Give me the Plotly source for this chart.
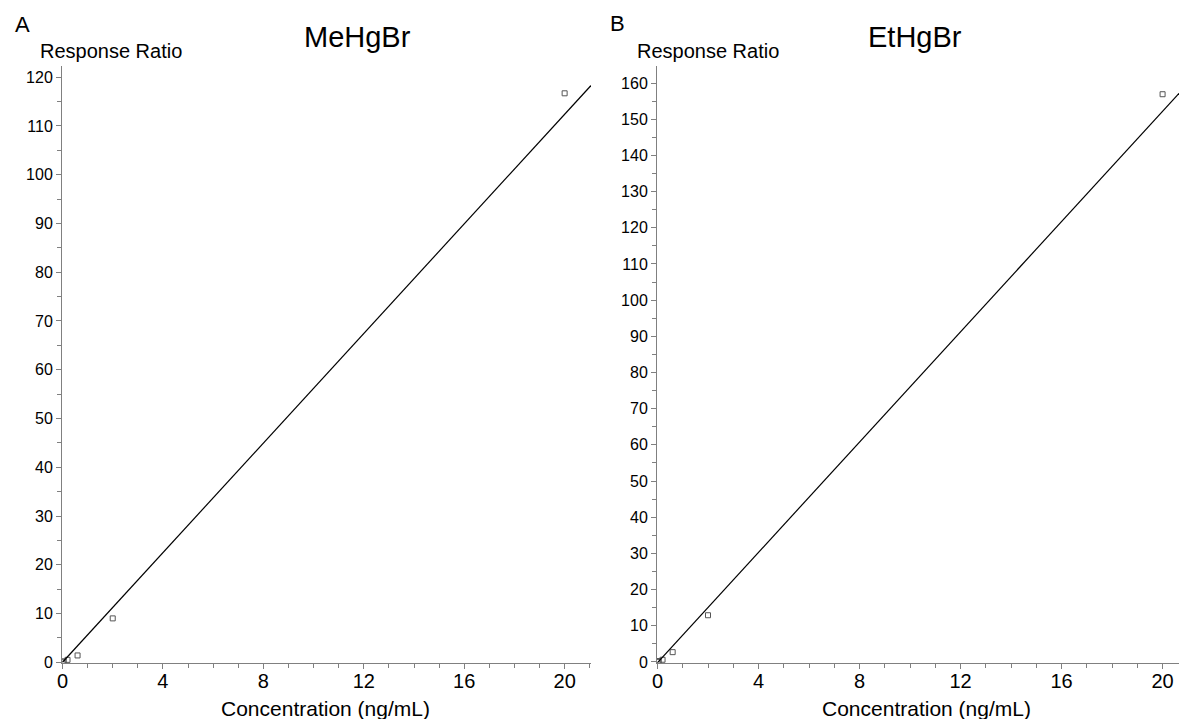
import plotly.graph_objects as go

# ---- data ----
conc_A = [0, 0.05, 0.2, 0.6, 2, 20]
resp_A = [0.0, 0.2, 0.5, 1.4, 9.0, 116.7]
fit_A = [5.62, 0.0]          # slope, intercept
fit_x_A = [0, 21.05]

conc_B = [0, 0.05, 0.2, 0.6, 2, 20]
resp_B = [0.0, 0.25, 0.6, 2.7, 12.9, 156.9]
fit_B = [7.62, -0.2]
fit_x_B = [0, 20.65]

titles = ["MeHgBr", "EtHgBr"]
panel_letters = ["A", "B"]
y_axis_label = "Response Ratio"
x_axis_label = "Concentration (ng/mL)"
x_ticks = [0, 4, 8, 12, 16, 20]

W, H = 1179, 719
FONT = "Liberation Sans, Arial, sans-serif"
AX = "#808080"

fig = go.Figure()

marker = dict(symbol="square-open", size=5, color="#555555", line=dict(width=1, color="#555555"))

fig.add_trace(go.Scatter(x=conc_A, y=resp_A, mode="markers", marker=marker,
                         xaxis="x", yaxis="y", showlegend=False))
fig.add_trace(go.Scatter(x=fit_x_A, y=[fit_A[0] * v + fit_A[1] for v in fit_x_A], mode="lines",
                         line=dict(color="black", width=1.2), xaxis="x", yaxis="y", showlegend=False))
fig.add_trace(go.Scatter(x=conc_B, y=resp_B, mode="markers", marker=marker,
                         xaxis="x2", yaxis="y2", showlegend=False))
fig.add_trace(go.Scatter(x=fit_x_B, y=[fit_B[0] * v + fit_B[1] for v in fit_x_B], mode="lines",
                         line=dict(color="black", width=1.2), xaxis="x2", yaxis="y2", showlegend=False))

ydom = [(H - 663) / H, (H - 66) / H]

def xaxis(dom, rng, anchor):
    return dict(domain=dom, range=rng, anchor=anchor, showgrid=False, zeroline=False,
                automargin=False,
                showline=True, linecolor=AX, linewidth=1,
                ticks="outside", ticklen=5, tickcolor=AX, tickwidth=1,
                ticklabelstandoff=-5,
                tickvals=x_ticks, ticktext=[str(t) for t in x_ticks],
                tickfont=dict(family=FONT, size=20, color="black"),
                minor=dict(dtick=1, tick0=0, ticks="outside", ticklen=4, tickcolor=AX, showgrid=False))

def yaxis(rng, anchor, dtick):
    return dict(domain=ydom, range=rng, anchor=anchor, showgrid=False, zeroline=False,
                automargin=False,
                showline=True, linecolor=AX, linewidth=1,
                ticks="outside", ticklen=5, tickcolor=AX, tickwidth=1,
                dtick=dtick, tick0=0,
                tickfont=dict(family=FONT, size=16, color="black"),
                minor=dict(dtick=dtick / 2, tick0=0, ticks="outside", ticklen=4, tickcolor=AX, showgrid=False))

fig.update_layout(
    width=W, height=H,
    margin=dict(l=0, r=0, t=0, b=0),
    paper_bgcolor="white", plot_bgcolor="white",
    xaxis=xaxis([62 / W, 591 / W], [-0.02, 21.05], "y"),
    yaxis=yaxis([-0.15, 122.3], "x", 10),
    xaxis2=xaxis([657 / W, 1.0], [-0.02, 20.65], "y2"),
    yaxis2=yaxis([-0.3, 164.7], "x2", 10),
)

def ann(text, x, y, size, xanchor="center"):
    fig.add_annotation(text=text, x=x / W, y=1 - y / H, xref="paper", yref="paper",
                       xanchor=xanchor, yanchor="middle", showarrow=False,
                       font=dict(family=FONT, size=size, color="black"))

ann(panel_letters[0], 22, 24, 22)
ann(panel_letters[1], 617, 23, 22)
ann(y_axis_label, 38, 51, 20, "left")
ann(y_axis_label, 635, 51, 20, "left")
ann(titles[0], 357, 37, 29)
ann(titles[1], 915, 37, 29)
ann(x_axis_label, 325, 708, 21)
ann(x_axis_label, 926, 708, 21)

fig.write_html("out.html")
